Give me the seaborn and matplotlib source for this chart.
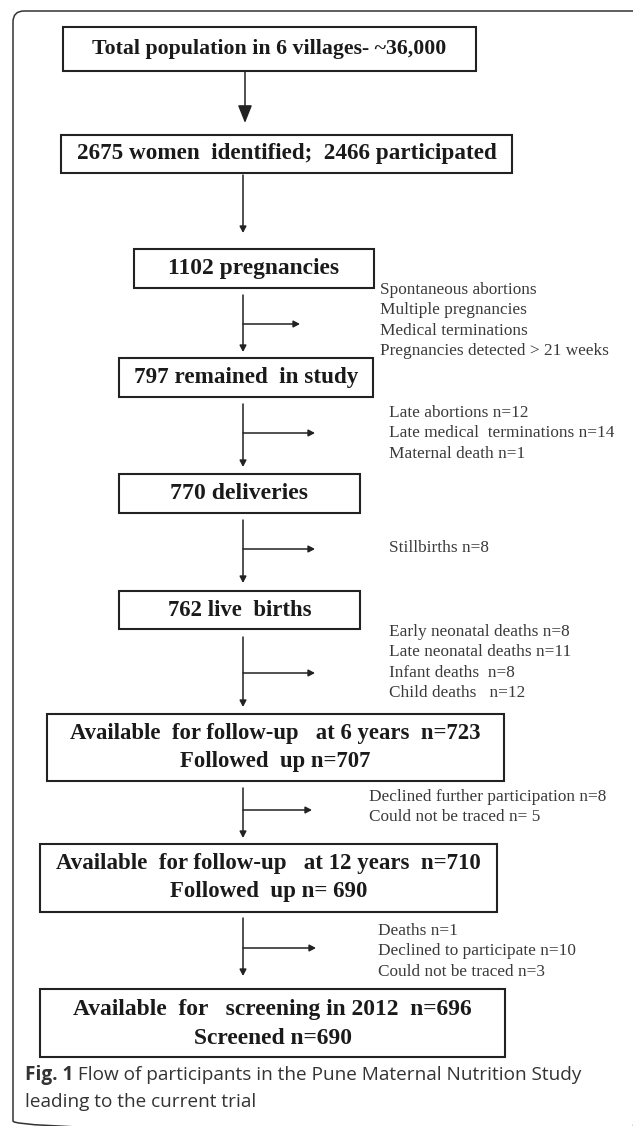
import matplotlib
matplotlib.use("Agg")
import matplotlib.pyplot as plt
import seaborn as sns
from matplotlib.patches import Rectangle, FancyBboxPatch

# ---------------- data (text content of the flow chart) ----------------
box_lines = [
    ["Total population in 6 villages- ~36,000"],
    ["2675 women  identified;  2466 participated"],
    ["1102 pregnancies"],
    ["797 remained  in study"],
    ["770 deliveries"],
    ["762 live  births"],
    ["Available  for follow-up   at 6 years  n=723", "Followed  up n=707"],
    ["Available  for follow-up   at 12 years  n=710", "Followed  up n= 690"],
    ["Available  for   screening in 2012  n=696", "Screened n=690"],
]
exclusions = [
    ["Spontaneous abortions", "Multiple pregnancies", "Medical terminations",
     "Pregnancies detected > 21 weeks"],
    ["Late abortions n=12", "Late medical  terminations n=14", "Maternal death n=1"],
    ["Stillbirths n=8"],
    ["Early neonatal deaths n=8", "Late neonatal deaths n=11", "Infant deaths  n=8",
     "Child deaths   n=12"],
    ["Declined further participation n=8", "Could not be traced n= 5"],
    ["Deaths n=1", "Declined to participate n=10", "Could not be traced n=3"],
]
caption_bold = "Fig. 1"
caption_rest = " Flow of participants in the Pune Maternal Nutrition Study"
caption_line2 = "leading to the current trial"

# ---------------- layout (pixel positions) ----------------
box_rects = [  # x0, x1, y0, y1
    (63, 476, 27, 71), (61, 512, 135, 173), (134, 374, 249, 288),
    (119, 373, 358, 397), (119, 360, 474, 513), (119, 360, 591, 629),
    (47, 504, 714, 781), (40, 497, 844, 912), (40, 505, 989, 1057),
]
box_text_y = [[49], [154], [268.5], [377.5], [493.5], [610],
              [733, 762], [863, 892], [1010, 1038]]
box_text_w = [351, 418, 171, 224, 137, 143, 408, 422, 397]
# vertical connectors: x, y_start, y_end ; branch y, branch end x
vconn = [(245, 71, 123), (243, 175, 233), (243, 295, 352), (243, 404, 467),
         (243, 520, 583), (243, 637, 707), (243, 788, 838), (243, 918, 976)]
branches = [None, None, (324, 300), (433, 315), (549, 315), (673, 315),
            (810, 312), (948, 316)]
excl_x = [380, 389, 389, 389, 369, 378]
excl_y0 = [290, 413, 548, 632, 797, 931]
excl_dy = 20.3

W, H = 633, 1126
sns.set_theme(style="white")
plt.rcParams['font.family'] = ['Liberation Serif', 'DejaVu Serif']

fig = plt.figure(figsize=(W / 100, H / 100), dpi=100)
fig.patch.set_facecolor("white")
ax = fig.add_axes([0, 0, 1, 1])
ax.set_xlim(0, W)
ax.set_ylim(H, 0)
ax.axis("off")
renderer = fig.canvas.get_renderer()


def fit_text(x, y, s, width, ha="center", va="center", base=12, **kw):
    t = ax.text(x, y, s, fontsize=base, ha=ha, va=va, **kw)
    bb = t.get_window_extent(renderer)
    fs = base * width / bb.width
    t.set_fontsize(fs)
    return t, fs


# outer frame (right and bottom edges run just past the canvas)
frame = FancyBboxPatch((13, 11), 630, 1121, boxstyle="round,pad=0,rounding_size=11",
                       fill=False, ec="#333333", lw=1.1, clip_on=True)
ax.add_patch(frame)

# boxes
box_col = "#222222"
for (x0, x1, y0, y1), lines, ys, tw in zip(box_rects, box_lines, box_text_y, box_text_w):
    ax.add_patch(Rectangle((x0, y0), x1 - x0, y1 - y0, fill=False, ec=box_col, lw=1.5))
    cx = (x0 + x1) / 2
    t, fs = fit_text(cx, ys[0], lines[0], tw, fontweight="bold", color="#1a1a1a")
    for s, yy in zip(lines[1:], ys[1:]):
        ax.text(cx, yy, s, fontsize=fs, ha="center", va="center",
                fontweight="bold", color="#1a1a1a")

# connectors
for i, (x, ya, yb) in enumerate(vconn):
    if i == 0:
        style = "-|>,head_length=0.4,head_width=0.16"
        ms = 27
    else:
        style = "-|>,head_length=0.38,head_width=0.2"
        ms = 10
    ax.annotate("", xy=(x, yb), xytext=(x, ya),
                arrowprops=dict(arrowstyle=style, mutation_scale=ms, lw=1.1,
                                color=box_col, shrinkA=0, shrinkB=0))
    br = branches[i]
    if br is not None:
        by, bx = br
        ax.annotate("", xy=(bx, by), xytext=(x, by),
                    arrowprops=dict(arrowstyle="-|>,head_length=0.38,head_width=0.2",
                                    mutation_scale=10, lw=1.1, color=box_col,
                                    shrinkA=0, shrinkB=0))

# exclusion text: one size fitted on the longest reference line
probe, efs = fit_text(0, 0, "Pregnancies detected > 21 weeks", 228, ha="left")
probe.remove()
for lines, x, y0 in zip(exclusions, excl_x, excl_y0):
    for k, s in enumerate(lines):
        ax.text(x, y0 + k * excl_dy, s, fontsize=efs, ha="left", va="center",
                color="#3a3a3a")

# caption
cap_font = ["Open Sans", "DejaVu Sans"]
tb = ax.text(25, 1075, caption_bold, fontsize=12, fontweight="bold", ha="left",
             va="center", family=cap_font, color="#333333")
tr = ax.text(0, 1075, caption_rest, fontsize=12, ha="left", va="center",
             family=cap_font, color="#333333")
wb = tb.get_window_extent(renderer).width
wr = tr.get_window_extent(renderer).width
cfs = 12 * 555 / (wb + wr)
tb.set_fontsize(cfs)
tr.set_fontsize(cfs)
wb = tb.get_window_extent(renderer).width
tr.set_x(25 + wb)
ax.text(25, 1102, caption_line2, fontsize=cfs, ha="left", va="center",
        family=cap_font, color="#333333")

fig.savefig("out.png", dpi=100, facecolor="white")
